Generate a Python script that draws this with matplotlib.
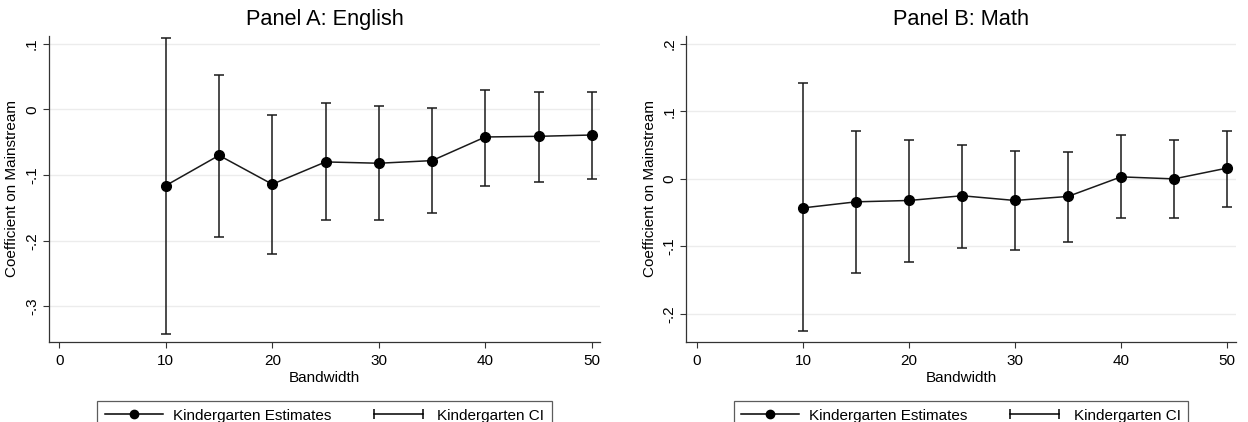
import numpy as np
import matplotlib
matplotlib.use("Agg")
import matplotlib.pyplot as plt
from matplotlib.lines import Line2D
from matplotlib.legend_handler import HandlerLine2D

# Bandwidths used in both panels
bandwidth = [10, 15, 20, 25, 30, 35, 40, 45, 50]

# Panel A: English
eng_est = [-0.116, -0.070, -0.114, -0.080, -0.082, -0.078, -0.042, -0.041, -0.039]
eng_hi = [0.109, 0.052, -0.008, 0.009, 0.005, 0.002, 0.029, 0.027, 0.027]
eng_lo = [-0.342, -0.195, -0.220, -0.169, -0.168, -0.158, -0.116, -0.110, -0.106]

# Panel B: Math
math_est = [-0.043, -0.034, -0.032, -0.025, -0.032, -0.026, 0.003, 0.000, 0.016]
math_hi = [0.142, 0.071, 0.057, 0.050, 0.041, 0.040, 0.065, 0.058, 0.071]
math_lo = [-0.226, -0.140, -0.123, -0.102, -0.105, -0.094, -0.058, -0.058, -0.041]

x_ticks = [0, 10, 20, 30, 40, 50]
eng_yticks = [0.1, 0, -0.1, -0.2, -0.3]
math_yticks = [0.2, 0.1, 0, -0.1, -0.2]

plt.rcParams['font.family'] = ['Liberation Sans', 'DejaVu Sans']


def stata_label(v):
    """Format tick value like Stata: .1, 0, -.1"""
    if abs(v) < 1e-9:
        return "0"
    s = f"{v:.1f}"
    return s.replace("0.", ".")


def draw_panel(ax, title, est, lo, hi, yticks, ylim):
    est = np.array(est)
    lo = np.array(lo)
    hi = np.array(hi)
    ax.errorbar(bandwidth, est, yerr=[est - lo, hi - est], fmt='none',
                ecolor='#1a1a1a', elinewidth=1.1, capsize=3.5, capthick=1.1)
    ax.plot(bandwidth, est, color='#1a1a1a', lw=1.1, marker='o', ms=7,
            markerfacecolor='black', markeredgecolor='black')

    ax.set_xlim(-1, 50.8)
    ax.set_ylim(*ylim)
    ax.set_xticks(x_ticks)
    ax.set_yticks(yticks)
    ax.set_yticklabels([stata_label(v) for v in yticks], rotation=90, va='center')
    ax.tick_params(axis='both', labelsize=11, length=4, width=0.8, color='#333333')
    ax.tick_params(axis='x', pad=5)
    ax.tick_params(axis='y', pad=3)
    for v in yticks:
        ax.axhline(v, color='#ececec', lw=1.0, zorder=0)

    for side in ('top', 'right'):
        ax.spines[side].set_visible(False)
    for side in ('left', 'bottom'):
        ax.spines[side].set_color('#333333')
        ax.spines[side].set_linewidth(0.9)

    ax.set_title(title, fontsize=15.7, pad=8)
    ax.set_xlabel('Bandwidth', fontsize=11, labelpad=2)
    ax.set_ylabel('Coefficient on Mainstream', fontsize=11, labelpad=4)

    est_handle = Line2D([], [], color='black', lw=1.1, marker='o', ms=6)
    ci_handle = Line2D([], [], color='black', lw=1.1, marker='|', ms=7, mew=1.1)
    leg = ax.legend([est_handle, ci_handle],
                    ['Kindergarten Estimates', 'Kindergarten CI'],
                    handler_map={ci_handle: HandlerLine2D(numpoints=2),
                                 est_handle: HandlerLine2D(numpoints=1)},
                    loc='upper center', bbox_to_anchor=(0.5, -0.193), ncol=2,
                    fontsize=11, frameon=True, fancybox=False, handlelength=3.8,
                    columnspacing=2.5, borderpad=0.5, handletextpad=0.65,
                    borderaxespad=0)
    leg.get_frame().set_edgecolor('#333333')
    leg.get_frame().set_linewidth(0.9)


fig = plt.figure(figsize=(12.48, 4.22), dpi=100)
ax_a = fig.add_axes([0.039, 0.190, 0.442, 0.725])
ax_b = fig.add_axes([0.550, 0.190, 0.440, 0.725])

draw_panel(ax_a, 'Panel A: English', eng_est, eng_lo, eng_hi, eng_yticks, (-0.354, 0.112))
draw_panel(ax_b, 'Panel B: Math', math_est, math_lo, math_hi, math_yticks, (-0.2415, 0.212))

fig.savefig('out.png', dpi=100)
